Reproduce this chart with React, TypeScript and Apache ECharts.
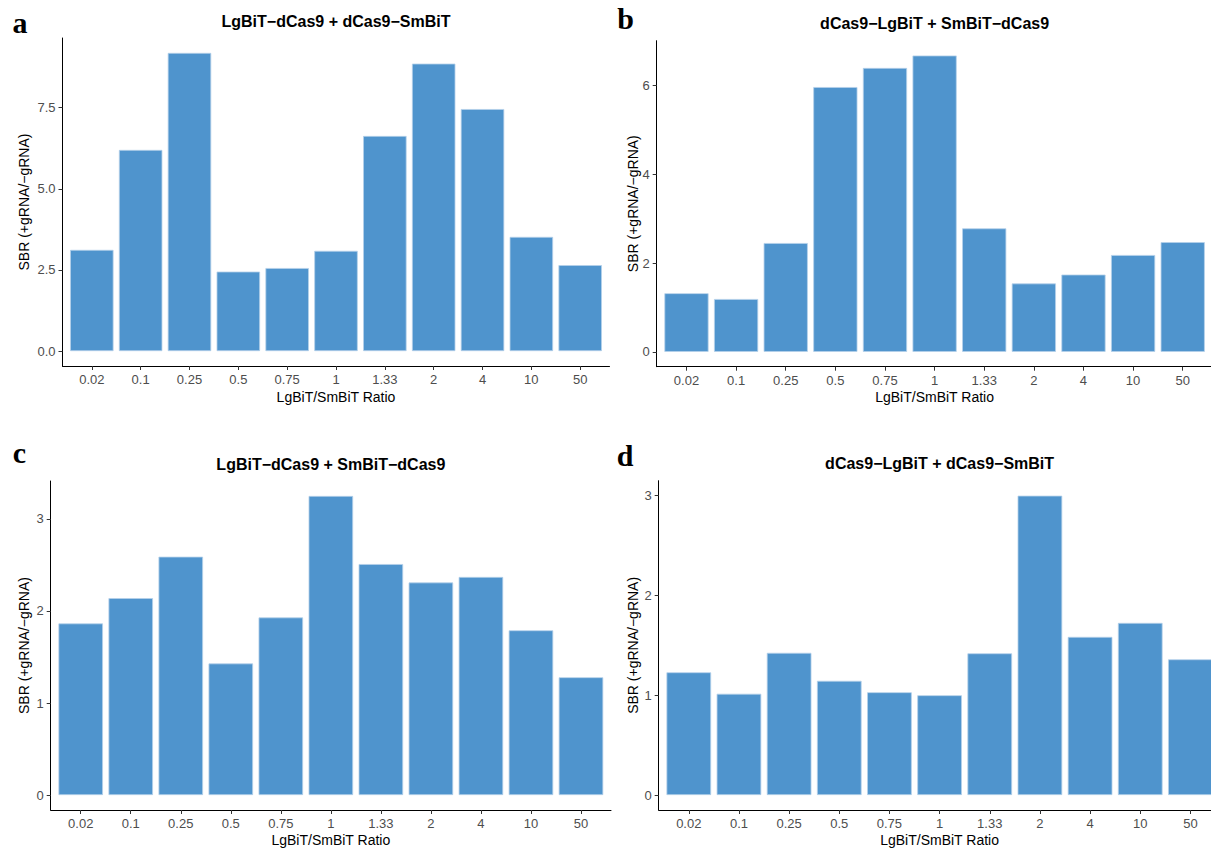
import React, { useEffect, useRef } from "react";
import * as echarts from "echarts";

// ---------- data ----------
const ratioLabels = ["0.02", "0.1", "0.25", "0.5", "0.75", "1", "1.33", "2", "4", "10", "50"];

const sbrA = [3.12, 6.2, 9.19, 2.45, 2.56, 3.09, 6.63, 8.86, 7.46, 3.52, 2.65];
const sbrB = [1.32, 1.19, 2.45, 5.96, 6.39, 6.67, 2.78, 1.54, 1.74, 2.18, 2.47];
const sbrC = [1.865, 2.14, 2.59, 1.43, 1.93, 3.25, 2.51, 2.31, 2.37, 1.79, 1.28];
const sbrD = [1.23, 1.015, 1.425, 1.145, 1.03, 1.0, 1.42, 3.0, 1.585, 1.725, 1.36];

const ticksA = [0, 2.5, 5, 7.5];
const ticksB = [0, 2, 4, 6];
const ticksC = [0, 1, 2, 3];
const ticksD = [0, 1, 2, 3];

const titles = [
  "LgBiT\u2212dCas9 + dCas9\u2212SmBiT",
  "dCas9\u2212LgBiT + SmBiT\u2212dCas9",
  "LgBiT\u2212dCas9 + SmBiT\u2212dCas9",
  "dCas9\u2212LgBiT + dCas9\u2212SmBiT",
];
const letters = ["a", "b", "c", "d"];
const yAxisTitle = "SBR (+gRNA/\u2212gRNA)";
const xAxisTitle = "LgBiT/SmBiT Ratio";

// ---------- layout (pixels) ----------
const W = 1211;
const H = 850;
const frames = [
  { x0: 62.5, x1: 609.5, y0: 38, y1: 366, lx: 20, ly: 22, ty: 21, yNameX: 23.7, xNameY: 397 },
  { x0: 656.7, x1: 1212.5, y0: 40.7, y1: 366.7, lx: 625.5, ly: 18, ty: 23, yNameX: 633, xNameY: 397 },
  { x0: 50.7, x1: 611, y0: 481, y1: 810, lx: 19.5, ly: 452, ty: 464, yNameX: 23.7, xNameY: 840 },
  { x0: 658.7, x1: 1220.5, y0: 480.7, y1: 810, lx: 625, ly: 455, ty: 463, yNameX: 633, xNameY: 839.5 },
];

const BAR = "#4F94CD";
const SANS = "'Liberation Sans', Arial, Helvetica, sans-serif";
const SERIF = "'Liberation Serif', 'Times New Roman', serif";

export default function App() {
  const ref = useRef<HTMLDivElement>(null);

  useEffect(() => {
    if (!ref.current) return;
    const chart = echarts.init(ref.current, null, { renderer: "svg", width: W, height: H });

    const panels = [
      { data: sbrA, ticks: ticksA, fmt: (v: number) => v.toFixed(1) },
      { data: sbrB, ticks: ticksB, fmt: (v: number) => String(v) },
      { data: sbrC, ticks: ticksC, fmt: (v: number) => String(v) },
      { data: sbrD, ticks: ticksD, fmt: (v: number) => String(v) },
    ];

    const grid: any[] = [];
    const xAxis: any[] = [];
    const yAxis: any[] = [];
    const series: any[] = [];
    const graphic: any[] = [];

    panels.forEach((p, i) => {
      const f = frames[i];
      const maxV = Math.max(...p.data);
      const yMin = -maxV * 0.05;
      const yMax = maxV * 1.05;
      const unit = (f.x1 - f.x0) / 11.2;
      const outer = 2 * i;
      const inner = 2 * i + 1;

      grid.push({
        left: f.x0,
        right: W - f.x1,
        top: f.y0,
        bottom: H - f.y1,
        containLabel: false,
        outerBoundsMode: "none",
      });
      grid.push({
        left: f.x0 + 0.1 * unit,
        right: W - f.x1 + 0.1 * unit,
        top: f.y0,
        bottom: H - f.y1,
        containLabel: false,
        outerBoundsMode: "none",
      });

      // outer grid: axis lines + y ticks/labels
      xAxis.push({
        gridIndex: outer,
        type: "value",
        min: 0,
        max: 1,
        axisLine: { show: true, onZero: false, lineStyle: { color: "#000", width: 1 } },
        axisTick: { show: false },
        axisLabel: { show: false },
        splitLine: { show: false },
      });
      yAxis.push({
        gridIndex: outer,
        type: "value",
        min: yMin,
        max: yMax,
        axisLine: { show: true, onZero: false, lineStyle: { color: "#000", width: 1 } },
        axisTick: { show: true, length: 4, customValues: p.ticks, lineStyle: { color: "#333", width: 1 } },
        axisLabel: {
          show: true,
          customValues: p.ticks,
          formatter: p.fmt,
          color: "#4d4d4d",
          fontSize: 13,
          fontFamily: SANS,
          margin: 7,
        },
        splitLine: { show: false },
      });

      // inner grid: bars + category ticks/labels
      xAxis.push({
        gridIndex: inner,
        type: "category",
        data: ratioLabels,
        boundaryGap: true,
        axisLine: { show: false, onZero: false },
        axisTick: { show: true, alignWithLabel: true, length: 4, lineStyle: { color: "#333", width: 1 } },
        axisLabel: { show: true, interval: 0, color: "#4d4d4d", fontSize: 13, fontFamily: SANS, margin: 7 },
        splitLine: { show: false },
      });
      yAxis.push({
        gridIndex: inner,
        type: "value",
        min: yMin,
        max: yMax,
        show: false,
        splitLine: { show: false },
      });

      series.push({
        type: "bar",
        xAxisIndex: inner,
        yAxisIndex: inner,
        data: p.data,
        barWidth: "89%",
        itemStyle: { color: BAR, borderColor: "#b5d1ea", borderWidth: 0.8 },
        silent: true,
      });

      const cx = (f.x0 + f.x1) / 2;
      const cy = (f.y0 + f.y1) / 2;
      graphic.push({
        type: "text",
        x: cx,
        y: f.ty,
        style: {
          text: titles[i],
          align: "center",
          verticalAlign: "middle",
          fontFamily: SANS,
          fontWeight: "bold",
          fontSize: 16,
          fill: "#000",
        },
      });
      graphic.push({
        type: "text",
        x: f.lx,
        y: f.ly,
        style: {
          text: letters[i],
          align: "center",
          verticalAlign: "middle",
          fontFamily: SERIF,
          fontWeight: "bold",
          fontSize: 30,
          fill: "#000",
        },
      });
      graphic.push({
        type: "text",
        x: f.yNameX,
        y: cy,
        rotation: Math.PI / 2,
        style: {
          text: yAxisTitle,
          align: "center",
          verticalAlign: "middle",
          fontFamily: SANS,
          fontSize: 14,
          fill: "#000",
        },
      });
      graphic.push({
        type: "text",
        x: cx,
        y: f.xNameY,
        style: {
          text: xAxisTitle,
          align: "center",
          verticalAlign: "middle",
          fontFamily: SANS,
          fontSize: 14,
          fill: "#000",
        },
      });
    });

    chart.setOption({
      animation: false,
      backgroundColor: "#ffffff",
      grid,
      xAxis,
      yAxis,
      series,
      graphic,
    });

    return () => chart.dispose();
  }, []);

  return (
    <div
      ref={ref}
      style={{ position: "absolute", left: 0, top: 0, width: W, height: H, background: "#fff", overflow: "hidden" }}
    />
  );
}
